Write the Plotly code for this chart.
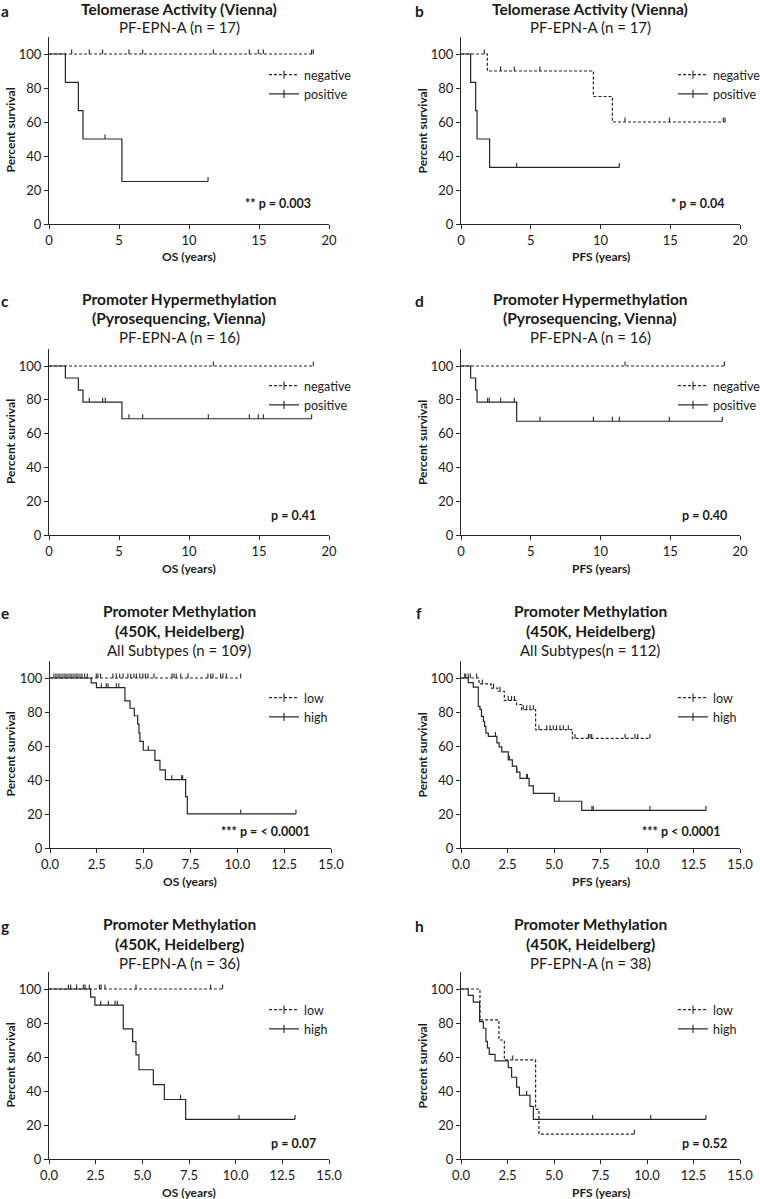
import plotly.graph_objects as go

# ---- data ----
# each curve: event times, survival after each event (%), censor times (last one = end of follow-up)

# a  Telomerase OS
a_neg_t, a_neg_s = [], []
a_neg_cens = [1.62, 2.88, 3.83, 5.71, 6.69, 11.74, 14.31, 14.95, 15.31, 18.76, 18.88]
a_pos_t = [1.17, 2.10, 2.43, 5.21]
a_pos_s = [83.3, 66.7, 50.0, 25.0]
a_pos_cens = [4.0, 11.36]

# b  Telomerase PFS
b_neg_t = [1.89, 9.49, 10.85]
b_neg_s = [90.0, 75.0, 60.0]
b_neg_cens = [1.67, 2.84, 3.82, 5.66, 11.76, 14.94, 18.8, 18.93]
b_pos_t = [0.69, 1.05, 1.15, 2.05]
b_pos_s = [83.3, 66.7, 50.0, 33.3]
b_pos_cens = [3.99, 11.35]

# c  Pyrosequencing OS
c_neg_t, c_neg_s = [], []
c_neg_cens = [11.74, 18.88]
c_pos_t = [1.17, 2.10, 2.43, 5.21]
c_pos_s = [92.9, 85.7, 78.6, 68.8]
c_pos_cens = [2.88, 3.83, 4.02, 5.71, 6.69, 11.38, 14.31, 14.95, 15.31, 18.76]

# d  Pyrosequencing PFS
d_neg_t, d_neg_s = [], []
d_neg_cens = [11.76, 18.88]
d_pos_t = [0.69, 1.05, 1.15, 3.99]
d_pos_s = [92.9, 85.7, 78.6, 67.3]
d_pos_cens = [1.91, 2.03, 2.84, 3.82, 5.66, 9.49, 10.85, 11.35, 14.93, 18.73]

# e  450K all subtypes OS
e_low_t, e_low_s = [], []
e_low_cens = [0.21, 0.32, 0.43, 0.53, 0.64, 0.75, 0.85, 0.96, 1.07, 1.17, 1.28, 1.39,
              1.49, 1.6, 1.71, 1.85, 1.99, 2.47, 2.56, 2.7, 3.36, 3.54, 3.72, 3.9,
              4.16, 4.31, 4.48, 4.61, 4.79, 4.96, 5.09, 5.23, 5.55, 6.51, 6.62, 6.74,
              6.98, 7.37, 8.43, 8.58, 8.7, 9.11, 9.23, 9.41, 10.18]
e_high_t = [2.2, 2.48, 4.0, 4.27, 4.5, 4.68, 4.75, 4.8, 4.98, 5.6, 5.87, 6.16, 7.24, 7.33]
e_high_s = [97.1, 94.3, 86.5, 82.2, 77.8, 72.9, 67.6, 62.7, 57.5, 51.6, 45.9, 40.2, 30.2, 20.1]
e_high_cens = [2.74, 3.0, 3.1, 3.54, 3.67, 5.25, 6.5, 7.03, 7.08, 10.18, 13.13]

# f  450K all subtypes PFS
f_low_t = [0.97, 1.61, 1.97, 2.33, 2.99, 3.26, 4.01, 5.99]
f_low_s = [96.5, 94.1, 92.2, 86.8, 84.3, 81.4, 69.6, 64.5]
f_low_cens = [0.25, 0.39, 0.5, 0.84, 1.15, 1.75, 2.1, 2.54, 2.72, 2.87, 3.35, 3.53,
              3.71, 3.89, 4.19, 4.61, 4.79, 4.96, 5.14, 5.32, 5.5, 5.77, 6.13, 6.85,
              6.94, 7.03, 8.82, 9.35, 9.5, 10.16]
f_high_t = [0.39, 0.66, 0.93, 1.02, 1.1, 1.2, 1.27, 1.34, 1.47, 1.93, 2.05, 2.19,
            2.54, 2.76, 2.99, 3.17, 3.66, 3.89, 5.02, 6.49]
f_high_s = [97.3, 94.6, 83.3, 81.5, 77.4, 74.5, 71.6, 67.6, 65.7, 61.8, 59.5, 56.5,
            51.8, 48.2, 44.6, 40.9, 36.6, 32.1, 27.5, 22.1]
f_high_cens = [0.2, 1.85, 2.6, 3.0, 3.53, 3.57, 5.27, 7.04, 7.11, 10.16, 13.17]

# g  450K PF-EPN-A OS
g_low_t, g_low_s = [], []
g_low_cens = [1.04, 1.16, 1.48, 1.84, 1.93, 2.16, 2.7, 2.79, 3.0, 4.66, 8.66, 9.3]
g_high_t = [2.23, 2.46, 3.98, 4.48, 4.66, 4.82, 5.59, 6.18, 7.32]
g_high_s = [95.2, 90.5, 76.6, 69.0, 61.3, 52.5, 43.8, 35.0, 23.3]
g_high_cens = [2.77, 3.18, 3.54, 3.66, 7.05, 10.18, 13.18]

# h  450K PF-EPN-A PFS
h_low_t = [1.02, 2.04, 2.33, 4.01, 4.19]
h_low_s = [81.8, 70.0, 58.3, 29.2, 14.6]
h_low_cens = [2.78, 9.32]
h_high_t = [0.39, 0.66, 1.0, 1.2, 1.34, 1.42, 1.52, 1.83, 2.54, 2.72, 2.99, 3.14, 3.71, 3.89]
h_high_s = [96.2, 92.3, 80.8, 76.9, 69.2, 65.4, 61.5, 57.7, 53.8, 48.1, 42.3, 37.5, 31.0, 23.3]
h_high_cens = [3.53, 7.08, 10.2, 13.17]

titles = ["Telomerase Activity (Vienna)", "Telomerase Activity (Vienna)",
          "Promoter Hypermethylation<br>(Pyrosequencing, Vienna)",
          "Promoter Hypermethylation<br>(Pyrosequencing, Vienna)",
          "Promoter Methylation<br>(450K, Heidelberg)", "Promoter Methylation<br>(450K, Heidelberg)",
          "Promoter Methylation<br>(450K, Heidelberg)", "Promoter Methylation<br>(450K, Heidelberg)"]
subtitles = ["PF-EPN-A (n = 17)", "PF-EPN-A (n = 17)", "PF-EPN-A (n = 16)", "PF-EPN-A (n = 16)",
             "All Subtypes (n = 109)", "All Subtypes(n = 112)", "PF-EPN-A (n = 36)", "PF-EPN-A (n = 38)"]
letters = ["a", "b", "c", "d", "e", "f", "g", "h"]
xlabels = ["OS (years)", "PFS (years)"] * 4
pvalues = ["** p = 0.003", "* p = 0.04", "p = 0.41", "p = 0.40",
           "*** p = < 0.0001", "*** p < 0.0001", "p = 0.07", "p = 0.52"]
group_names = [("negative", "positive")] * 4 + [("low", "high")] * 4

curves = [
    ((a_neg_t, a_neg_s, a_neg_cens), (a_pos_t, a_pos_s, a_pos_cens)),
    ((b_neg_t, b_neg_s, b_neg_cens), (b_pos_t, b_pos_s, b_pos_cens)),
    ((c_neg_t, c_neg_s, c_neg_cens), (c_pos_t, c_pos_s, c_pos_cens)),
    ((d_neg_t, d_neg_s, d_neg_cens), (d_pos_t, d_pos_s, d_pos_cens)),
    ((e_low_t, e_low_s, e_low_cens), (e_high_t, e_high_s, e_high_cens)),
    ((f_low_t, f_low_s, f_low_cens), (f_high_t, f_high_s, f_high_cens)),
    ((g_low_t, g_low_s, g_low_cens), (g_high_t, g_high_s, g_high_cens)),
    ((h_low_t, h_low_s, h_low_cens), (h_high_t, h_high_s, h_high_cens)),
]

# ---- layout geometry (pixels in a 760 x 1199 page) ----
W, H = 760, 1199
FONT = "Lato"
INK = "#1a1a1a"
LINE = "#262626"
DASH = "3px,2px"

col_x = [(49, 329), (461, 740)]          # x=0 and x=max pixel
row_y = [(224, 54), (535, 366), (848, 678), (1159, 989)]   # y=0 and y=100 pixel
row_title_y = [(9, None, 27), (299, 318, 337), (611, 631, 650), (924, 944, 963)]
row_xlabel_y = [256, 568, 881, 1192]
row_p_y = [203, 515, 831, 1143]
row_leg_y = [72, 383, 695, 1007]
col_title_x = [179, 590]
col_letter_x = [5, 419]
col_ylab_x = [10, 422]
col_p_right = [[313, 318, 312, 318], [727, 729, 723, 729]]
col_leg_text_x = [304, 713]


def level_at(ev_t, ev_s, t):
    s = 100.0
    for et, es in zip(ev_t, ev_s):
        if et <= t:
            s = es
    return s


fig = go.Figure()
layout = dict()
annotations = []

for i in range(8):
    r, c = divmod(i, 2)
    k = "" if i == 0 else str(i + 1)
    xmax = 20 if r < 2 else 15
    x0p, x1p = col_x[c]
    if i == 4:
        x0p, x1p = 50, 331
    y0p, y100p = row_y[r]
    ytop = y0p - (y0p - y100p) * 1.10
    if r < 2:
        tickvals = [0, 5, 10, 15, 20]
        ticktext = ["0", "5", "10", "15", "20"]
    else:
        tickvals = [0, 2.5, 5, 7.5, 10, 12.5, 15]
        ticktext = ["0.0", "2.5", "5.0", "7.5", "10.0", "12.5", "15.0"]
    axis_common = dict(showline=True, linecolor=LINE, linewidth=1.3, ticks="outside",
                       ticklen=4, tickwidth=1.3, tickcolor=LINE, showgrid=False, zeroline=False,
                       tickfont=dict(family=FONT, size=13, color=INK), fixedrange=True,
                       automargin=False)
    layout["xaxis" + k] = dict(domain=[x0p / W, x1p / W], range=[0, xmax], anchor="y" + k,
                               tickvals=tickvals, ticktext=ticktext, **axis_common)
    layout["yaxis" + k] = dict(domain=[1 - y0p / H, 1 - ytop / H], range=[0, 110], anchor="x" + k,
                               tickvals=[0, 20, 40, 60, 80, 100], **axis_common)

    leg = "legend" + k
    for g, (ev_t, ev_s, cens) in enumerate(curves[i]):
        dash = DASH if g == 0 else "solid"
        end_t = max(cens + ev_t)
        xs = [0] + list(ev_t) + [end_t]
        ys = [100] + list(ev_s) + [ev_s[-1] if ev_s else 100]
        fig.add_trace(go.Scatter(x=xs, y=ys, mode="lines", line_shape="hv",
                                 line=dict(color=LINE, width=1.2, dash=dash),
                                 xaxis="x" + k, yaxis="y" + k, showlegend=False,
                                 hoverinfo="skip"))
        cy = [level_at(ev_t, ev_s, t) for t in cens]
        fig.add_trace(go.Scatter(x=cens, y=cy, mode="markers",
                                 marker=dict(size=1, opacity=0),
                                 error_y=dict(type="constant", value=2.6, valueminus=0,
                                              symmetric=False, width=0, thickness=1.1,
                                              color=LINE),
                                 xaxis="x" + k, yaxis="y" + k, showlegend=False,
                                 hoverinfo="skip"))
        # legend entry
        fig.add_trace(go.Scatter(x=[None], y=[None], mode="lines+markers",
                                 name=group_names[i][g],
                                 line=dict(color=LINE, width=1.2, dash=dash),
                                 marker=dict(symbol="line-ns-open", size=6,
                                             line=dict(color=LINE, width=1.1)),
                                 xaxis="x" + k, yaxis="y" + k, legend=leg))
    ly = row_leg_y[r]
    layout[leg] = dict(x=(col_leg_text_x[c] - 40) / W, y=1 - (ly - 12) / H,
                       xanchor="left", yanchor="top", bgcolor="rgba(0,0,0,0)",
                       font=dict(family=FONT, size=12.5, color=INK),
                       itemwidth=30, tracegroupgap=0)

    # titles
    t1, t2, t3 = row_title_y[r]
    tx = col_title_x[c]
    if t2 is None:
        annotations.append(dict(text="<b>%s</b>" % titles[i], x=tx / W, y=1 - t1 / H))
    else:
        l1, l2 = titles[i].split("<br>")
        annotations.append(dict(text="<b>%s</b>" % l1, x=tx / W, y=1 - t1 / H))
        annotations.append(dict(text="<b>%s</b>" % l2, x=tx / W, y=1 - t2 / H))
    annotations.append(dict(text=subtitles[i], x=tx / W, y=1 - t3 / H, font_size=15))
    annotations.append(dict(text="<b>%s</b>" % letters[i], x=col_letter_x[c] / W,
                            y=1 - (t1 + 2) / H))
    # axis labels
    annotations.append(dict(text="<b>Percent survival</b>", x=col_ylab_x[c] / W,
                            y=1 - (y0p + ytop) / 2 / H, textangle=-90, font_size=12))
    annotations.append(dict(text="<b>%s</b>" % xlabels[i], x=(x0p + x1p) / 2 / W,
                            y=1 - row_xlabel_y[r] / H, font_size=12))
    annotations.append(dict(text="<b>%s</b>" % pvalues[i], x=col_p_right[c][r] / W,
                            y=1 - row_p_y[r] / H, xanchor="right", font_size=12.5))

anns = []
for a in annotations:
    fs = a.pop("font_size", 15.5)
    d = dict(xref="paper", yref="paper", showarrow=False, xanchor="center", yanchor="middle",
             font=dict(family=FONT, size=fs, color=INK))
    d.update(a)
    anns.append(d)

fig.update_layout(width=W, height=H,
                  margin=dict(l=0, r=0, t=0, b=0, pad=0, autoexpand=False),
                  paper_bgcolor="white", plot_bgcolor="white",
                  annotations=anns, **layout)

# drop the browser's default 8px page margin so the figure sits at the window's corner
fig.write_html("out.html", config={"displayModeBar": False},
               post_script="document.body.style.margin='0';")
